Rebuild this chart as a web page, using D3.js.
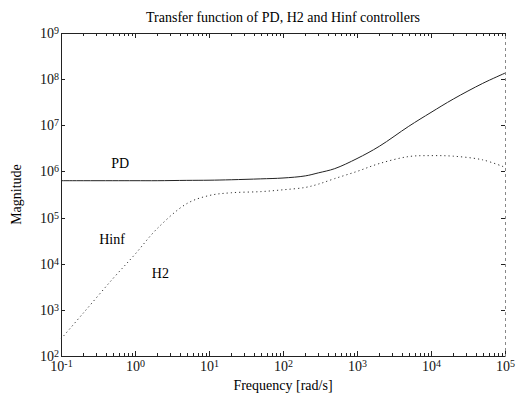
<!DOCTYPE html>
<html>
<head>
<meta charset="utf-8">
<script src="https://cdn.jsdelivr.net/npm/d3@7"></script>
<style>
  body { margin: 0; background: #fff; }
  svg { font-family: "Liberation Serif", "DejaVu Serif", serif; }
  .axis path, .axis line { stroke: #222; shape-rendering: crispEdges; }
  .axis text { font-family: "Liberation Serif", serif; font-size: 14px; fill: #111; }
</style>
</head>
<body>
<div class="chart"></div>
<script>
var margin = {top: 33, right: 12, bottom: 47, left: 61},
    width = 517 - margin.left - margin.right,
    height = 403 - margin.top - margin.bottom;

// frequencies in rad/s
var freq = [0.1, 0.2, 0.5, 1, 2, 5, 10, 20, 50, 100, 200, 300, 500,
            1000, 2000, 5000, 1e4, 2e4, 5e4, 1e5];

// PD controller magnitude (solid)
var pd = [6.3e5, 6.3e5, 6.3e5, 6.3e5, 6.3e5, 6.4e5, 6.45e5, 6.6e5, 6.9e5, 7.2e5,
          8.0e5, 9.3e5, 1.15e6, 1.9e6, 3.5e6, 9.5e6, 1.9e7, 3.7e7, 8.1e7, 1.35e8];

// H2 / Hinf controller magnitude (dotted)
var h2 = [234, 850, 4.7e3, 1.6e4, 5.8e4, 2.0e5, 3.0e5, 3.45e5, 3.65e5, 4.0e5,
          4.5e5, 5.3e5, 7.0e5, 1.0e6, 1.48e6, 2.1e6, 2.2e6, 2.14e6, 1.78e6, 1.23e6];

var xMajor = [1e-1, 1e0, 1e1, 1e2, 1e3, 1e4, 1e5];
var yMajor = [1e2, 1e3, 1e4, 1e5, 1e6, 1e7, 1e8, 1e9];

var x = d3.scaleLog().domain([0.1, 1e5]).range([0, width]);
var y = d3.scaleLog().domain([1e2, 1e9]).range([height, 0]);

// minor ticks 2..9 in every decade
var xMinor = [];
xMajor.slice(0, -1).forEach(function(d) {
  for (var k = 2; k <= 9; k++) xMinor.push(d * k);
});

var svg = d3.select(".chart").append("svg")
    .attr("width", width + margin.left + margin.right)
    .attr("height", height + margin.top + margin.bottom)
  .append("g")
    .attr("transform", "translate(" + margin.left + "," + margin.top + ")");

// power-of-ten labels with superscript exponent
function powLabel(sel) {
  sel.selectAll(".tick text").each(function(d) {
    var t = d3.select(this).text("");
    t.append("tspan").text("10");
    t.append("tspan").attr("dy", "-0.4em").style("font-size", "10px")
      .text(Math.round(Math.log10(d)));
  });
}

// bottom axis
svg.append("g")
    .attr("class", "x axis")
    .attr("transform", "translate(0," + height + ")")
    .call(d3.axisBottom(x).tickValues(xMajor).tickSize(-5).tickSizeOuter(0).tickPadding(5)
      .tickFormat(function(d) { return d; }))
    .call(powLabel);

svg.append("g")
    .attr("class", "axis")
    .attr("transform", "translate(0," + height + ")")
    .call(d3.axisBottom(x).tickValues(xMinor).tickSize(-3).tickSizeOuter(0).tickFormat(""))
    .select(".domain").remove();

// top axis
svg.append("g")
    .attr("class", "axis")
    .call(d3.axisTop(x).tickValues(xMajor).tickSize(-5).tickSizeOuter(0).tickFormat(""));

svg.append("g")
    .attr("class", "axis")
    .call(d3.axisTop(x).tickValues(xMinor).tickSize(-3).tickSizeOuter(0).tickFormat(""))
    .select(".domain").remove();

// left axis
svg.append("g")
    .attr("class", "y axis")
    .call(d3.axisLeft(y).tickValues(yMajor).tickSize(-4).tickSizeOuter(0).tickPadding(2)
      .tickFormat(function(d) { return d; }))
    .call(powLabel);

// right axis (faint in the scan)
var right = svg.append("g")
    .attr("class", "axis")
    .attr("transform", "translate(" + width + ",0)")
    .call(d3.axisRight(y).tickValues(yMajor).tickSize(-4).tickSizeOuter(0).tickFormat(""));
right.select(".domain").style("stroke", "#888").style("stroke-dasharray", "3,3");

// curves
var line = d3.line()
    .x(function(d) { return x(d[0]); })
    .y(function(d) { return y(d[1]); })
    .curve(d3.curveCatmullRom.alpha(0.5));

svg.append("path")
    .datum(d3.zip(freq, pd))
    .attr("fill", "none")
    .attr("stroke", "#222")
    .attr("stroke-width", 1)
    .attr("d", line);

svg.append("path")
    .datum(d3.zip(freq, h2))
    .attr("fill", "none")
    .attr("stroke", "#333")
    .attr("stroke-width", 1)
    .attr("stroke-dasharray", "1.2,3")
    .attr("d", line);

// curve labels
var labels = [
  {text: "PD",   f: 0.63, m: 1.5e6},
  {text: "Hinf", f: 0.49, m: 3.5e4},
  {text: "H2",   f: 2.2,  m: 6.3e3}
];
svg.selectAll(".curve-label")
    .data(labels)
  .enter().append("text")
    .attr("class", "curve-label")
    .attr("x", function(d) { return x(d.f); })
    .attr("y", function(d) { return y(d.m); })
    .attr("dy", ".35em")
    .style("text-anchor", "middle")
    .style("font-size", "14px")
    .text(function(d) { return d.text; });

// title and axis labels
svg.append("text")
    .attr("x", width / 2)
    .attr("y", -11)
    .style("text-anchor", "middle")
    .style("font-size", "14px")
    .text("Transfer function of PD, H2 and Hinf controllers");

svg.append("text")
    .attr("x", width / 2)
    .attr("y", height + 34)
    .style("text-anchor", "middle")
    .style("font-size", "14px")
    .text("Frequency [rad/s]");

svg.append("text")
    .attr("transform", "rotate(-90)")
    .attr("x", -height / 2)
    .attr("y", -40)
    .style("text-anchor", "middle")
    .style("font-size", "14px")
    .text("Magnitude");
</script>
</body>
</html>
